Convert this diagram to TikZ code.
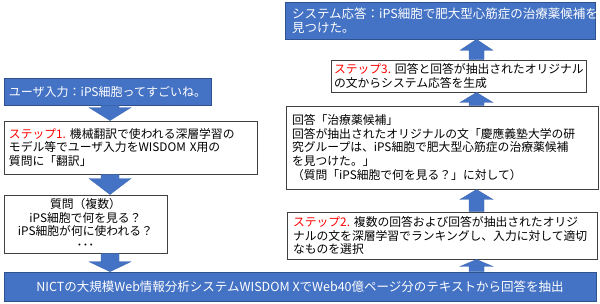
\documentclass[tikz,border=0pt]{standalone}
\usepackage{fontspec}
\setmainfont{Noto Sans CJK JP}
\usetikzlibrary{calc}
\definecolor{obl}{HTML}{4472C4}
\definecolor{obd}{HTML}{2F528F}
\definecolor{stepred}{HTML}{FF0000}
\tikzset{
  bluebox/.style={draw=obd, line width=0.6pt, fill=obl, text=white, inner sep=0pt,
    font=\fontsize{12}{14}\selectfont},
  whitebox/.style={draw=black!75, line width=0.9pt, fill=white, inner sep=0pt,
    font=\fontsize{11.8}{13.6}\selectfont},
  arrowfill/.style={fill=obl, draw=obl!90!black, line width=0.3pt},
}
% #1 start, #2 tip, #3 half shaft, #4 half head, #5 head length (pt)
\newcommand{\varrow}[5]{%
  \path[arrowfill] let \p1=(#1), \p2=(#2), \n1={sign(\y1-\y2)} in
    ({\x1-#3pt},{\y1}) -- ({\x1-#3pt},{\y2+\n1*#5pt}) -- ({\x1-#4pt},{\y2+\n1*#5pt})
    -- ({\x1},{\y2}) -- ({\x1+#4pt},{\y2+\n1*#5pt}) -- ({\x1+#3pt},{\y2+\n1*#5pt})
    -- ({\x1+#3pt},{\y1}) -- cycle;}
\newcommand{\stp}[1]{\textcolor{stepred}{#1}}
\begin{document}
\begin{tikzpicture}[x=1pt,y=-1pt]
\useasboundingbox (0,0) rectangle (600,304);
\coordinate (lx) at (110,0);
\coordinate (rx) at (476.5,0);

% left column
\node[bluebox, minimum width=207pt, minimum height=27pt, align=center] (user) at (107.5,91.5)
  {ユーザ入力：iPS細胞ってすごいね。};
\node[whitebox, minimum width=253pt, minimum height=53pt, text width=243pt, align=left] (step1) at (130.5,147.5)
  {\stp{ステップ1.}~機械翻訳で使われる深層学習の\\モデル等でユーザ入力をWISDOM X用の\\質問に「翻訳」};
\node[whitebox, minimum width=163pt, minimum height=58pt, text width=151pt, align=center] (ques) at (85.5,224)
  {質問（複数）\\iPS細胞で何を見る？\\iPS細胞が何に使われる？\\･･･};

% bottom bar
\node[bluebox, minimum width=592pt, minimum height=29pt, align=center, font=\fontsize{12.5}{14}\selectfont] (bar) at (300,286.5)
  {NICTの大規模Web情報分析システムWISDOM XでWeb40億ページ分のテキストから回答を抽出};

% right column
\node[bluebox, minimum width=310pt, minimum height=37pt, text width=296pt, align=left, font=\fontsize{12.5}{14.5}\selectfont] (sys) at (440,20.5)
  {システム応答：iPS細胞で肥大型心筋症の治療薬候補を\\見つけた。};
\node[whitebox, minimum width=255pt, minimum height=32pt, text width=249pt, align=left] (step3) at (458.5,76)
  {\stp{ステップ3.}~回答と回答が抽出されたオリジナル\\の文からシステム応答を生成};
\node[whitebox, minimum width=312pt, minimum height=83pt, text width=300pt, align=left] (ans) at (442,147.5)
  {回答「治療薬候補」\\回答が抽出されたオリジナルの文「慶應義塾大学の研\\究グループは、iPS細胞で肥大型心筋症の治療薬候補\\を見つけた。」\\（質問「iPS細胞で何を見る？」に対して）};
\node[whitebox, minimum width=310pt, minimum height=47pt, text width=298pt, align=left] (step2) at (442,235.5)
  {\stp{ステップ2.}~複数の回答および回答が抽出されたオリジ\\ナルの文を深層学習でランキングし、入力に対して適切\\なものを選択};

% block arrows
\varrow{user.south -| lx}{step1.north -| lx}{9}{21}{13}
\varrow{step1.south -| lx}{ques.north -| lx}{9}{21}{16}
\varrow{ques.south -| lx}{bar.north -| lx}{9}{21}{10}
\varrow{step3.north -| rx}{sys.south -| rx}{7.5}{16.5}{11}
\varrow{ans.north -| rx}{step3.south -| rx}{7.5}{16.5}{10}
\varrow{step2.north -| rx}{ans.south -| rx}{7.5}{16.5}{10}
\varrow{bar.north -| rx}{step2.south -| rx}{7.5}{16.5}{7}
\end{tikzpicture}
\end{document}
